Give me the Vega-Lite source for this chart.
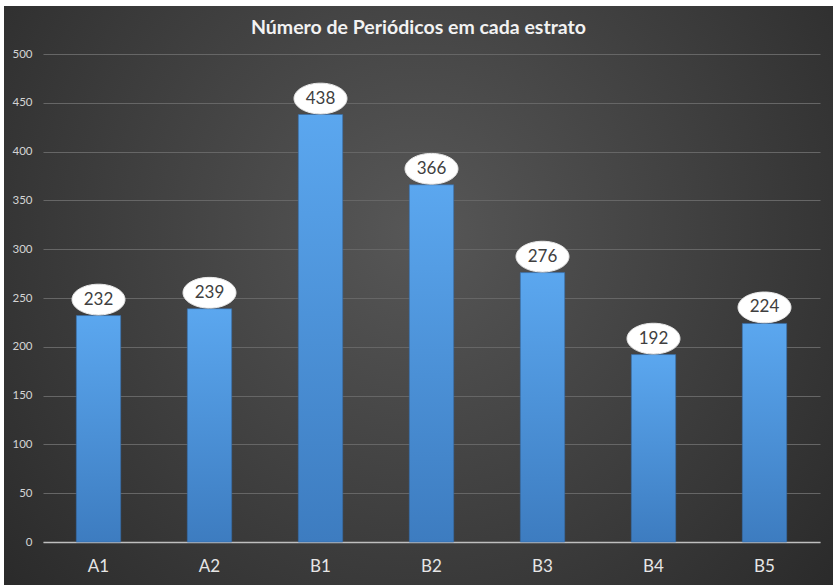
{
  "$schema": "https://vega.github.io/schema/vega-lite/v6.json",
  "width": 829,
  "height": 579,
  "autosize": {"type": "none"},
  "padding": {"left": 4, "top": 6, "right": 4, "bottom": 0},
  "background": "#ffffff",
  "config": {
    "view": {
      "stroke": null,
      "fill": {
        "gradient": "radial",
        "x1": 0.5, "y1": 0.42, "x2": 0.5, "y2": 0.42,
        "r1": 0, "r2": 0.75,
        "stops": [
          {"offset": 0, "color": "#575757"},
          {"offset": 1, "color": "#242424"}
        ]
      }
    },
    "font": "Lato"
  },
  "title": {
    "text": "Número de Periódicos em cada estrato",
    "font": "Lato",
    "fontSize": 19.5,
    "fontWeight": "bold",
    "color": "#f2f2f2",
    "anchor": "middle",
    "baseline": "middle",
    "offset": -41
  },
  "data": {
    "values": [
      {"estrato": "A1", "n": 232},
      {"estrato": "A2", "n": 239},
      {"estrato": "B1", "n": 438},
      {"estrato": "B2", "n": 366},
      {"estrato": "B3", "n": 276},
      {"estrato": "B4", "n": 192},
      {"estrato": "B5", "n": 224}
    ]
  },
  "encoding": {
    "x": {
      "field": "estrato",
      "type": "nominal",
      "sort": null,
      "scale": {"range": [39, 816], "paddingInner": 0.6, "paddingOuter": 0.3},
      "axis": {
        "title": null,
        "orient": "bottom",
        "offset": -43,
        "labelAngle": 0,
        "labelFont": "Lato",
        "labelFontSize": 17,
        "labelColor": "#e6e6e6",
        "labelPadding": 16,
        "ticks": false,
        "tickSize": 0,
        "domain": true,
        "domainColor": "#bfbfbf",
        "domainWidth": 1.5,
        "grid": false
      }
    },
    "y": {
      "field": "n",
      "type": "quantitative",
      "scale": {"domain": [0, 500], "range": [536, 48], "nice": false},
      "axis": {
        "title": null,
        "orient": "left",
        "offset": -28,
        "values": [0, 50, 100, 150, 200, 250, 300, 350, 400, 450, 500],
        "labelFont": "Lato",
        "labelFontSize": 11.5,
        "labelColor": "#d4d4d4",
        "labelPadding": 0,
        "ticks": false,
        "tickSize": 0,
        "domain": false,
        "grid": true,
        "gridColor": "#666666",
        "gridWidth": 1
      }
    }
  },
  "layer": [
    {
      "mark": {
        "type": "bar",
        "color": {
          "gradient": "linear",
          "x1": 0, "y1": 0, "x2": 0, "y2": 1,
          "stops": [
            {"offset": 0, "color": "#5ba7ef"},
            {"offset": 1, "color": "#3d7cc0"}
          ]
        },
        "stroke": "#3569a3",
        "strokeWidth": 1,
        "strokeOpacity": 0.6
      }
    },
    {
      "mark": {
        "type": "point",
        "shape": "M-1,0 C-1,-0.32 -0.552,-0.58 0,-0.58 C0.552,-0.58 1,-0.32 1,0 C1,0.32 0.552,0.58 0,0.58 C-0.552,0.58 -1,0.32 -1,0 Z",
        "size": 2809,
        "filled": true,
        "fill": "#ffffff",
        "stroke": "#e8e8e8",
        "strokeWidth": 1,
        "opacity": 1,
        "yOffset": -16
      }
    },
    {
      "mark": {
        "type": "text",
        "font": "Lato",
        "fontSize": 17,
        "color": "#404040",
        "baseline": "middle",
        "dy": -16
      },
      "encoding": {"text": {"field": "n", "type": "quantitative"}}
    }
  ]
}
